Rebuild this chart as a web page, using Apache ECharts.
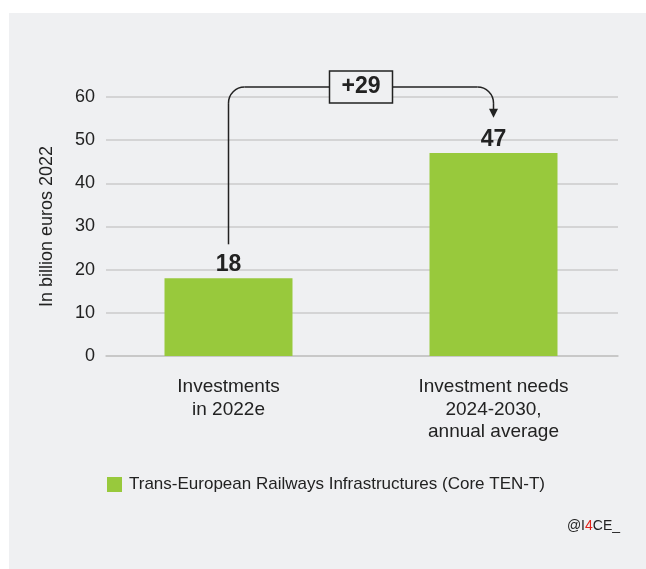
<!DOCTYPE html>
<html>
<head>
<meta charset="utf-8">
<script src="https://cdn.jsdelivr.net/npm/echarts@6/dist/echarts.min.js"></script>
<style>
  html, body { margin: 0; padding: 0; background: #fff; }
  #chart { width: 646px; height: 569px; }
</style>
</head>
<body>
<div id="chart"></div>
<script>
// data
const categories = ["Investments\nin 2022e", "Investment needs\n2024-2030,\nannual average"];
const values = [18, 47];
const seriesName = "Trans-European Railways Infrastructures (Core TEN-T)";
const yTicks = [0, 10, 20, 30, 40, 50, 60];

const font = "'Liberation Sans', Arial, Helvetica, sans-serif";
const ink = "#222";
const panel = "#eff0f2";
const green = "#98c93c";
const yMin = yTicks[0];
const yMax = yTicks[yTicks.length - 1];

const chart = echarts.init(document.getElementById("chart"));

chart.setOption({
  animation: false,
  backgroundColor: "#fff",
  textStyle: { fontFamily: font, color: ink },
  // grid 0 carries the gridlines, grid 1 (a bit wider) carries the bars
  grid: [
    { left: 106, right: 28, top: 97, bottom: 213 },
    { left: 96, right: 20, top: 97, bottom: 213 },
  ],
  legend: {
    data: [seriesName],
    left: 102,
    top: 471,
    icon: "rect",
    itemWidth: 15,
    itemHeight: 15,
    textStyle: { fontSize: 17, color: ink, padding: [0, 0, 0, 2] },
  },
  xAxis: [
    {
      type: "category",
      gridIndex: 0,
      data: categories,
      axisLine: { lineStyle: { color: "#c4c4c4", width: 1.5 } },
      axisTick: { show: false },
      axisLabel: { show: false },
    },
    {
      type: "category",
      gridIndex: 1,
      data: categories,
      axisLine: { show: false },
      axisTick: { alignWithLabel: true, length: 10, lineStyle: { color: "#b8b8b8", width: 1.5 } },
      axisLabel: { fontSize: 19, color: ink, lineHeight: 22.5, margin: 20 },
    },
  ],
  yAxis: [
    {
      type: "value",
      gridIndex: 0,
      min: yMin,
      max: yMax,
      interval: 10,
      name: "In billion euros 2022",
      nameLocation: "middle",
      nameGap: 50,
      nameTextStyle: { fontSize: 18, color: ink },
      axisLabel: { fontSize: 18, color: ink, margin: 11 },
      splitLine: { lineStyle: { color: "#cbcbcb", width: 1.5 } },
    },
    {
      type: "value",
      gridIndex: 1,
      min: yMin,
      max: yMax,
      interval: 10,
      show: false,
      splitLine: { show: false },
    },
  ],
  series: [
    {
      name: seriesName,
      type: "bar",
      xAxisIndex: 1,
      yAxisIndex: 1,
      data: values,
      barWidth: 128,
      itemStyle: { color: green },
      label: {
        show: true,
        position: "top",
        distance: 2,
        fontSize: 23,
        fontWeight: "bold",
        color: ink,
      },
    },
  ],
});

// bracket annotation between the two bars, placed through the axes
const px = (i, v) => chart.convertToPixel({ gridIndex: 1 }, [i, v]);
const a = px(0, values[0]);
const b = px(1, values[1]);
const topY = px(0, 62.3)[1];
const tipY = px(1, 55.2)[1];
const startY = a[1] - 34;
const r = 16;
const boxW = 63, boxH = 32;
const midX = (a[0] + b[0]) / 2;
const boxL = midX - boxW / 2, boxR = midX + boxW / 2;
const headH = 9, headW = 9;
const stroke = { stroke: ink, lineWidth: 1.5, fill: null };

chart.setOption({
  graphic: {
    elements: [
      {
        type: "rect",
        z: -100,
        silent: true,
        shape: { x: 9, y: 13, width: 646, height: 569 },
        style: { fill: panel },
      },
      { type: "line", shape: { x1: a[0], y1: startY, x2: a[0], y2: topY + r }, style: stroke },
      {
        type: "arc",
        shape: { cx: a[0] + r, cy: topY + r, r: r, startAngle: Math.PI, endAngle: Math.PI * 1.5, clockwise: true },
        style: stroke,
      },
      { type: "line", shape: { x1: a[0] + r, y1: topY, x2: boxL, y2: topY }, style: stroke },
      { type: "line", shape: { x1: boxR, y1: topY, x2: b[0] - r, y2: topY }, style: stroke },
      {
        type: "arc",
        shape: { cx: b[0] - r, cy: topY + r, r: r, startAngle: Math.PI * 1.5, endAngle: Math.PI * 2, clockwise: true },
        style: stroke,
      },
      { type: "line", shape: { x1: b[0], y1: topY + r, x2: b[0], y2: tipY - headH + 1 }, style: stroke },
      {
        type: "polygon",
        shape: { points: [[b[0] - headW / 2, tipY - headH], [b[0] + headW / 2, tipY - headH], [b[0], tipY]] },
        style: { fill: ink },
      },
      {
        type: "rect",
        shape: { x: boxL, y: topY - boxH / 2, width: boxW, height: boxH },
        style: { fill: panel, stroke: ink, lineWidth: 1.5 },
      },
      {
        type: "text",
        x: midX,
        y: topY,
        style: {
          text: "+" + (values[1] - values[0]),
          font: "bold 23px " + font,
          fill: ink,
          align: "center",
          verticalAlign: "middle",
        },
      },
      {
        type: "text",
        x: 620,
        y: 526,
        style: {
          text: "@I{r|4}CE_",
          rich: { r: { fill: "#e2231a", font: "14px " + font } },
          font: "14px " + font,
          fill: ink,
          align: "right",
          verticalAlign: "middle",
        },
      },
    ],
  },
});
</script>
</body>
</html>
